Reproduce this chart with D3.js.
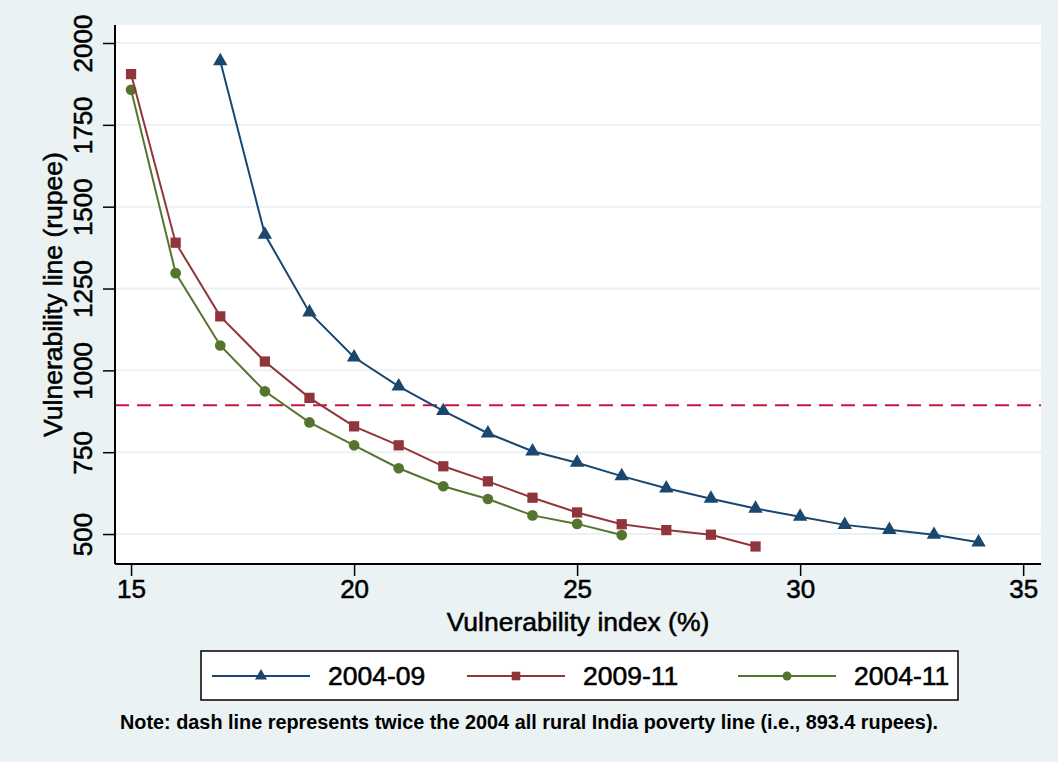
<!DOCTYPE html>
<html><head><meta charset="utf-8">
<script src="https://cdn.jsdelivr.net/npm/d3@7"></script>
<style>body{margin:0;background:#EAF2F3;} svg{display:block;font-family:"Liberation Sans",Arial,sans-serif;}
.heavy{stroke:#000;stroke-width:0.55px;paint-order:stroke;}</style>
</head><body>
<script>
const x0409 = [17,18,19,20,21,22,23,24,25,26,27,28,29,30,31,32,33,34];
const y0409 = [1945,1415,1177,1040,951,876,808,753,718,677,640,608,578,553,528,513,498,475];
const x0911 = [15,16,17,18,19,20,21,22,23,24,25,26,27,28,29];
const y0911 = [1905,1390,1165,1027,916,829,771,707,661,611,566,530,512,498,462];
const x0411 = [15,16,17,18,19,20,21,22,23,24,25,26];
const y0411 = [1857,1297,1076,936,841,771,701,646,607,557,531,497];
const seriesNames = ["2004-09","2009-11","2004-11"];
const xTicks = [15,20,25,30,35];
const yTicks = [500,750,1000,1250,1500,1750,2000];
const povertyLine = 893.4;
const xTitle = "Vulnerability index (%)";
const yTitle = "Vulnerability line (rupee)";
const note = "Note: dash line represents twice the 2004 all rural India poverty line (i.e., 893.4 rupees).";

const W=1058,H=762;
const L=115,R=1041,T=25,B=564;
const svg=d3.select("body").append("svg").attr("width",W).attr("height",H);
svg.append("rect").attr("width",W).attr("height",H).attr("fill","#EAF2F3");
svg.append("rect").attr("x",L).attr("y",T).attr("width",R-L).attr("height",B-T).attr("fill","#fff");

const x=d3.scaleLinear().domain([14.64,35.4]).range([L,R]);
const y=d3.scaleLinear().domain([408.5,2055]).range([B,T]);

// gridlines
svg.append("g").selectAll("line").data(yTicks).join("line")
  .attr("x1",L).attr("x2",R).attr("y1",d=>y(d)).attr("y2",d=>y(d))
  .attr("stroke","#EAF2F3").attr("stroke-width",2);

// dashed poverty line
svg.append("line").attr("x1",L).attr("x2",R).attr("y1",y(povertyLine)).attr("y2",y(povertyLine))
  .attr("stroke","#C8173F").attr("stroke-width",2).attr("stroke-dasharray","14,8");

// axes
const xAxis=d3.axisBottom(x).tickValues(xTicks).tickSize(12).tickPadding(6).tickFormat(d3.format("d"));
const gx=svg.append("g").attr("transform",`translate(0,${B})`).call(xAxis);
gx.select(".domain").attr("d",`M${L},0H${R}`).attr("stroke","#000").attr("stroke-width",2);
gx.selectAll(".tick line").attr("stroke","#000").attr("stroke-width",1.5);
gx.selectAll(".tick text").attr("font-size",26).attr("fill","#000").attr("class","heavy")
  .attr("dy",null).attr("y",34);

const yAxis=d3.axisLeft(y).tickValues(yTicks).tickSize(12).tickFormat(d3.format("d"));
const gy=svg.append("g").attr("transform",`translate(${L},0)`).call(yAxis);
gy.select(".domain").attr("d",`M0,${T}V${B}`).attr("stroke","#000").attr("stroke-width",2);
gy.selectAll(".tick line").attr("stroke","#000").attr("stroke-width",1.5);
gy.selectAll(".tick text").attr("font-size",26).attr("fill","#000").attr("class","heavy")
  .attr("x",null).attr("dy",null).attr("text-anchor","middle")
  .attr("transform","translate(-23,0) rotate(-90)");

// titles
svg.append("text").attr("x",(L+R)/2).attr("y",631).attr("text-anchor","middle").attr("class","heavy")
  .attr("font-size",26.5).text(xTitle);
svg.append("text").attr("transform",`translate(62,${(T+B)/2}) rotate(-90)`).attr("text-anchor","middle")
  .attr("class","heavy").attr("font-size",26.5).text(yTitle);

const series=[
  {name:seriesNames[0],xs:x0409,ys:y0409,color:"#1A476F",shape:d3.symbolTriangle,size:90},
  {name:seriesNames[1],xs:x0911,ys:y0911,color:"#90353B",shape:d3.symbolSquare,size:105},
  {name:seriesNames[2],xs:x0411,ys:y0411,color:"#55752F",shape:d3.symbolCircle,size:90}
];
const line=d3.line().x(d=>x(d[0])).y(d=>y(d[1]));
const plot=svg.append("g");
series.slice().reverse().forEach(s=>{
  const pts=s.xs.map((v,i)=>[v,s.ys[i]]);
  plot.append("path").attr("d",line(pts)).attr("fill","none").attr("stroke",s.color).attr("stroke-width",2);
  plot.append("g").selectAll("path").data(pts).join("path")
    .attr("transform",d=>`translate(${x(d[0])},${y(d[1])})`)
    .attr("d",d3.symbol().type(s.shape).size(s.size)).attr("fill",s.color);
});

// legend
const lg=svg.append("g");
lg.append("rect").attr("x",201).attr("y",651).attr("width",757).attr("height",49)
  .attr("fill","#fff").attr("stroke","#000").attr("stroke-width",1.5);
const lx=[212,467,738];
series.forEach((s,i)=>{
  const g=lg.append("g").attr("transform",`translate(${lx[i]},676)`);
  g.append("line").attr("x1",0).attr("x2",98).attr("stroke",s.color).attr("stroke-width",2);
  g.append("path").attr("transform","translate(49,0)").attr("d",d3.symbol().type(s.shape).size(s.size*0.7)).attr("fill",s.color);
  g.append("text").attr("x",116).attr("y",9).attr("font-size",26.5).attr("class","heavy").text(s.name);
});

svg.append("text").attr("x",120).attr("y",729).attr("font-size",21).attr("font-weight","bold")
  .attr("textLength",818).attr("lengthAdjust","spacingAndGlyphs").text(note);
</script>
</body></html>
